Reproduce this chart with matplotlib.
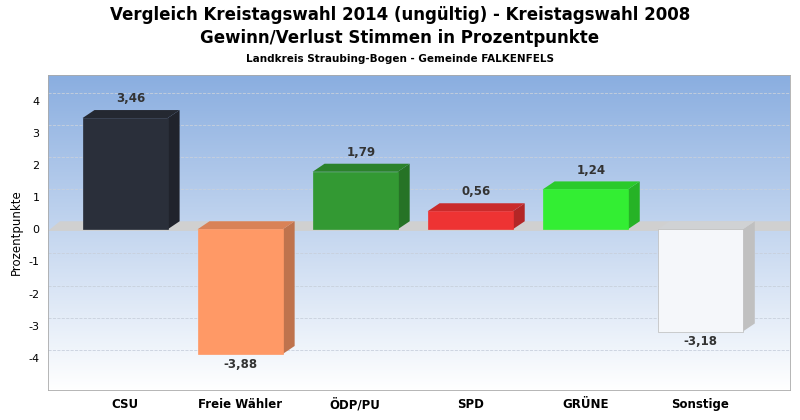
import matplotlib
matplotlib.use("Agg")
import matplotlib.pyplot as plt
import matplotlib.colors as mc
import numpy as np
from matplotlib.patches import Polygon

categories = ["CSU", "Freie Wähler", "ÖDP/PU", "SPD", "GRÜNE", "Sonstige"]
values = [3.46, -3.88, 1.79, 0.56, 1.24, -3.18]
colors = ["#2a2f3a", "#ff9966", "#339933", "#ee3333", "#33ee33", "#f5f7fa"]
yticks = [4, 3, 2, 1, 0, -1, -2, -3, -4]

fig = plt.figure(figsize=(8, 4.2), dpi=100)
fig.patch.set_facecolor("white")
ax = fig.add_axes([0.06, 0.0714, 0.9275, 0.75])
xmin, xmax, ymin, ymax = -0.67, 5.78, -5.0, 4.8
ax.set_xlim(xmin, xmax); ax.set_ylim(ymin, ymax)

grad = np.linspace(0, 1, 256).reshape(-1, 1)
cmap = mc.LinearSegmentedColormap.from_list("bg", ["#ffffff", "#8aaee0"])
ax.imshow(grad, aspect="auto", cmap=cmap, extent=[xmin, xmax, ymin, ymax], origin="lower", zorder=0)

dx, dy = 0.104, 0.25
for t in yticks:
    if t != 0:
        ax.plot([xmin, xmax], [t + dy, t + dy], color="#c8d0dc", lw=0.6, ls="--", zorder=1)
ax.add_patch(Polygon([[xmin, -0.05], [xmax, -0.05], [xmax + dx, dy], [xmin + dx, dy]],
                     closed=True, fc="#d0d0d0", ec="none", zorder=1, clip_on=True))

w = 0.74
for i, (v, c) in enumerate(zip(values, colors)):
    rgb = np.array(mc.to_rgb(c))
    dark = rgb * 0.75
    lo, hi = min(0, v), max(0, v)
    x0, x1 = i - w / 2, i + w / 2
    ax.add_patch(Polygon([[x1, lo], [x1 + dx, lo + dy], [x1 + dx, hi + dy], [x1, hi]],
                         fc=dark if c != "#f5f7fa" else "#c0c0c0", ec="none", zorder=3))
    ax.add_patch(Polygon([[x0, hi], [x1, hi], [x1 + dx, hi + dy], [x0 + dx, hi + dy]],
                         fc=rgb * 0.85, ec="none", zorder=3))
    ax.bar(i, v, width=w, color=c, edgecolor="#bbbbbb" if c == "#f5f7fa" else c, lw=0.5, zorder=4)
    lab = f"{v:.2f}".replace(".", ",")
    if v >= 0:
        ax.text(i + dx / 2, v + dy + 0.15, lab, ha="center", va="bottom", fontsize=8.5, fontweight="bold", color="#333333", zorder=5)
    else:
        ax.text(i, v - 0.12, lab, ha="center", va="top", fontsize=8.5, fontweight="bold", color="#333333", zorder=5)

ax.set_xticks(range(len(categories)))
ax.set_xticklabels(categories, fontsize=8.5, fontweight="bold")
ax.set_yticks(yticks)
ax.set_yticklabels([str(t) for t in yticks], fontsize=8)
ax.tick_params(length=0, pad=6)
for s in ax.spines.values():
    s.set_color("#aaaaaa"); s.set_linewidth(0.6)
ax.set_ylabel("Prozentpunkte", fontsize=8.5)

fig.text(0.5, 0.985, "Vergleich Kreistagswahl 2014 (ungültig) - Kreistagswahl 2008", ha="center", va="top", fontsize=12, fontweight="bold")
fig.text(0.5, 0.93, "Gewinn/Verlust Stimmen in Prozentpunkte", ha="center", va="top", fontsize=12, fontweight="bold")
fig.text(0.5, 0.872, "Landkreis Straubing-Bogen - Gemeinde FALKENFELS", ha="center", va="top", fontsize=7.5, fontweight="bold")
fig.savefig("out.png", dpi=100)
